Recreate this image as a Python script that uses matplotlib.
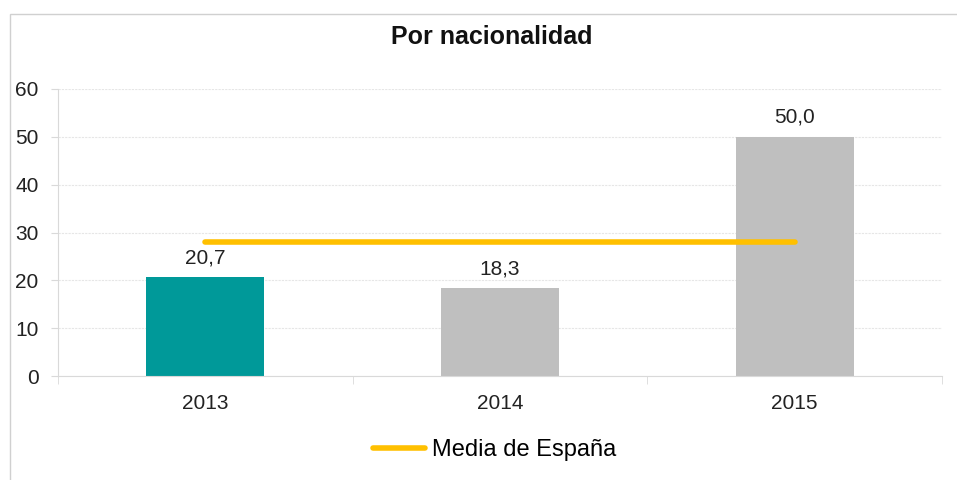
import matplotlib.pyplot as plt
from matplotlib.patches import Rectangle

plt.rcParams['font.family'] = ['Liberation Sans', 'DejaVu Sans']

# Data
years = ['2013', '2014', '2015']
values = [20.7, 18.3, 50.0]
media_espana = [28.0, 28.0, 28.0]
bar_colors = ['#009999', '#BFBFBF', '#BFBFBF']

fig = plt.figure(figsize=(9.57, 4.8), dpi=100)
ax = fig.add_axes([58 / 957, 1 - 376 / 480, (942 - 58) / 957, (376 - 89) / 480])

x = list(range(len(years)))
ax.bar(x, values, width=0.4, color=bar_colors, zorder=2)
ax.plot(x, media_espana, color='#FFC000', linewidth=4, solid_capstyle='round',
        zorder=3, label='Media de España')

for xi, v in zip(x, values):
    ax.annotate(f'{v:.1f}'.replace('.', ','), (xi, v), xytext=(0, 10),
                textcoords='offset points', ha='center', va='baseline',
                fontsize=15, color='#222222')

ax.set_xlim(-0.5, 2.5)
ax.set_ylim(0, 60)
ax.set_yticks(range(0, 61, 10))
ax.set_xticks(x)
ax.set_xticklabels(years)
ax.set_xticks([-0.5, 0.5, 1.5, 2.5], minor=True)
ax.tick_params(axis='x', which='major', length=0, pad=13, labelsize=15, labelcolor='#222222')
ax.tick_params(axis='x', which='minor', length=6, color='#D9D9D9')
ax.tick_params(axis='y', length=5, color='#D9D9D9', labelsize=15, labelcolor='#222222', pad=9)

ax.grid(axis='y', color='#E6E6E6', linestyle=(0, (2, 1)), linewidth=0.8, zorder=0)
for side in ['top', 'right']:
    ax.spines[side].set_visible(False)
ax.spines['left'].set_color('#D9D9D9')
ax.spines['bottom'].set_color('#D9D9D9')

fig.text(492 / 957, 1 - 37 / 480, 'Por nacionalidad', ha='center', va='center',
         fontsize=18, fontweight='bold', color='#111111')

fig.legend(loc='center', bbox_to_anchor=(495 / 957, 1 - 450 / 480), frameon=False,
           fontsize=17, handlelength=2.2, handletextpad=0.3)

# Outer border of the chart
fig.patches.append(Rectangle((10 / 957, -0.05), 1.0, 1 - 14 / 480 + 0.05,
                             transform=fig.transFigure, fill=False,
                             edgecolor='#D0D0D0', linewidth=1))

fig.savefig('out.png', dpi=100)
